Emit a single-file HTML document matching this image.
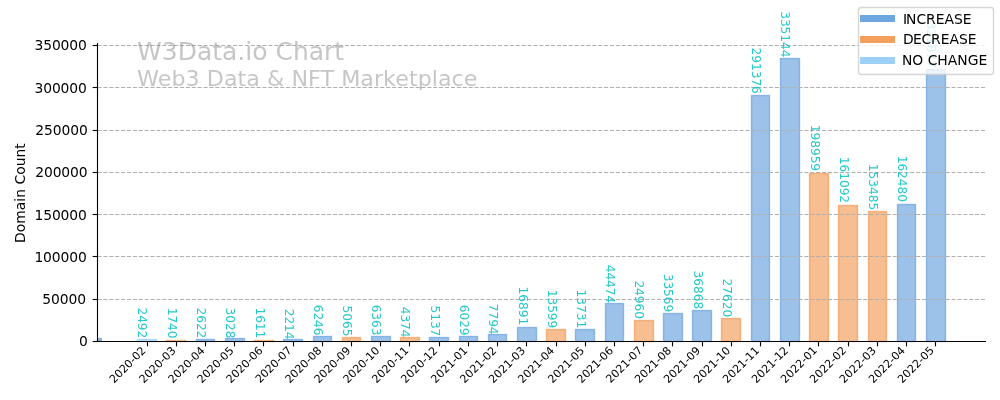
<!DOCTYPE html>
<html lang="en"><head><meta charset="utf-8"><title>W3Data.io Chart</title>
<style>html,body{margin:0;padding:0;background:#fff;}body{width:1000px;height:400px;overflow:hidden;}svg{display:block;}text{font-family:"DejaVu Sans","Liberation Sans",sans-serif;}</style></head><body>
<svg width="1000" height="400" viewBox="0 0 1000 400">
<rect width="1000" height="400" fill="#fff"/>
<rect x="98" y="337.9" width="4" height="3.1" fill="#8cb2d8"/>
<g stroke-width="1.39">
<rect x="137.5" y="339.5" width="19.0" height="2.0" fill="#85c4f8" fill-opacity="0.55" stroke="#85c4f8" stroke-opacity="0.55"/>
<rect x="166.5" y="340.5" width="19.0" height="1.0" fill="#f08837" fill-opacity="0.55" stroke="#f08837" stroke-opacity="0.55"/>
<rect x="196.5" y="339.5" width="18.0" height="2.0" fill="#4a90d9" fill-opacity="0.55" stroke="#4a90d9" stroke-opacity="0.55"/>
<rect x="225.5" y="338.5" width="19.0" height="3.0" fill="#4a90d9" fill-opacity="0.55" stroke="#4a90d9" stroke-opacity="0.55"/>
<rect x="254.5" y="340.5" width="19.0" height="1.0" fill="#f08837" fill-opacity="0.55" stroke="#f08837" stroke-opacity="0.55"/>
<rect x="283.5" y="339.5" width="19.0" height="2.0" fill="#4a90d9" fill-opacity="0.55" stroke="#4a90d9" stroke-opacity="0.55"/>
<rect x="313.5" y="336.5" width="18.0" height="5.0" fill="#4a90d9" fill-opacity="0.55" stroke="#4a90d9" stroke-opacity="0.55"/>
<rect x="342.5" y="337.5" width="18.0" height="4.0" fill="#f08837" fill-opacity="0.55" stroke="#f08837" stroke-opacity="0.55"/>
<rect x="371.5" y="336.5" width="19.0" height="5.0" fill="#4a90d9" fill-opacity="0.55" stroke="#4a90d9" stroke-opacity="0.55"/>
<rect x="400.5" y="337.5" width="19.0" height="4.0" fill="#f08837" fill-opacity="0.55" stroke="#f08837" stroke-opacity="0.55"/>
<rect x="429.5" y="337.5" width="19.0" height="4.0" fill="#4a90d9" fill-opacity="0.55" stroke="#4a90d9" stroke-opacity="0.55"/>
<rect x="459.5" y="336.5" width="18.0" height="5.0" fill="#4a90d9" fill-opacity="0.55" stroke="#4a90d9" stroke-opacity="0.55"/>
<rect x="488.5" y="334.5" width="18.0" height="7.0" fill="#4a90d9" fill-opacity="0.55" stroke="#4a90d9" stroke-opacity="0.55"/>
<rect x="517.5" y="327.5" width="19.0" height="14.0" fill="#4a90d9" fill-opacity="0.55" stroke="#4a90d9" stroke-opacity="0.55"/>
<rect x="546.5" y="329.5" width="19.0" height="12.0" fill="#f08837" fill-opacity="0.55" stroke="#f08837" stroke-opacity="0.55"/>
<rect x="575.5" y="329.5" width="19.0" height="12.0" fill="#4a90d9" fill-opacity="0.55" stroke="#4a90d9" stroke-opacity="0.55"/>
<rect x="605.5" y="303.5" width="18.0" height="38.0" fill="#4a90d9" fill-opacity="0.55" stroke="#4a90d9" stroke-opacity="0.55"/>
<rect x="634.5" y="320.5" width="19.0" height="21.0" fill="#f08837" fill-opacity="0.55" stroke="#f08837" stroke-opacity="0.55"/>
<rect x="663.5" y="313.5" width="19.0" height="28.0" fill="#4a90d9" fill-opacity="0.55" stroke="#4a90d9" stroke-opacity="0.55"/>
<rect x="692.5" y="310.5" width="19.0" height="31.0" fill="#4a90d9" fill-opacity="0.55" stroke="#4a90d9" stroke-opacity="0.55"/>
<rect x="721.5" y="318.5" width="19.0" height="23.0" fill="#f08837" fill-opacity="0.55" stroke="#f08837" stroke-opacity="0.55"/>
<rect x="751.5" y="95.5" width="18.0" height="246.0" fill="#4a90d9" fill-opacity="0.55" stroke="#4a90d9" stroke-opacity="0.55"/>
<rect x="780.5" y="58.5" width="19.0" height="283.0" fill="#4a90d9" fill-opacity="0.55" stroke="#4a90d9" stroke-opacity="0.55"/>
<rect x="809.5" y="173.5" width="19.0" height="168.0" fill="#f08837" fill-opacity="0.55" stroke="#f08837" stroke-opacity="0.55"/>
<rect x="838.5" y="205.5" width="19.0" height="136.0" fill="#f08837" fill-opacity="0.55" stroke="#f08837" stroke-opacity="0.55"/>
<rect x="868.5" y="211.5" width="18.0" height="130.0" fill="#f08837" fill-opacity="0.55" stroke="#f08837" stroke-opacity="0.55"/>
<rect x="897.5" y="204.5" width="18.0" height="137.0" fill="#4a90d9" fill-opacity="0.55" stroke="#4a90d9" stroke-opacity="0.55"/>
<rect x="926.5" y="69.5" width="19.0" height="272.0" fill="#4a90d9" fill-opacity="0.55" stroke="#4a90d9" stroke-opacity="0.55"/>
</g>
<g stroke="#b0b0b0" stroke-width="1.11" stroke-dasharray="4.11 1.78" fill="none">
<line x1="97.5" x2="985" y1="341.5" y2="341.5"/>
<line x1="97.5" x2="985" y1="299.5" y2="299.5"/>
<line x1="97.5" x2="985" y1="256.5" y2="256.5"/>
<line x1="97.5" x2="985" y1="214.5" y2="214.5"/>
<line x1="97.5" x2="985" y1="172.5" y2="172.5"/>
<line x1="97.5" x2="985" y1="130.5" y2="130.5"/>
<line x1="97.5" x2="985" y1="87.5" y2="87.5"/>
<line x1="97.5" x2="985" y1="45.5" y2="45.5"/>
</g>
<g stroke="#000" stroke-width="1.11" fill="none" stroke-linecap="square">
<line x1="97.5" x2="97.5" y1="43.5" y2="341.5"/>
<line x1="97.5" x2="985.5" y1="341.5" y2="341.5"/>
</g>
<g stroke="#000" stroke-width="1.11" fill="none">
<line x1="92.64" x2="97.5" y1="341.5" y2="341.5"/>
<line x1="92.64" x2="97.5" y1="299.5" y2="299.5"/>
<line x1="92.64" x2="97.5" y1="256.5" y2="256.5"/>
<line x1="92.64" x2="97.5" y1="214.5" y2="214.5"/>
<line x1="92.64" x2="97.5" y1="172.5" y2="172.5"/>
<line x1="92.64" x2="97.5" y1="130.5" y2="130.5"/>
<line x1="92.64" x2="97.5" y1="87.5" y2="87.5"/>
<line x1="92.64" x2="97.5" y1="45.5" y2="45.5"/>
<line x1="147.5" x2="147.5" y1="341.5" y2="346.36"/>
<line x1="176.5" x2="176.5" y1="341.5" y2="346.36"/>
<line x1="205.5" x2="205.5" y1="341.5" y2="346.36"/>
<line x1="234.5" x2="234.5" y1="341.5" y2="346.36"/>
<line x1="263.5" x2="263.5" y1="341.5" y2="346.36"/>
<line x1="293.5" x2="293.5" y1="341.5" y2="346.36"/>
<line x1="322.5" x2="322.5" y1="341.5" y2="346.36"/>
<line x1="351.5" x2="351.5" y1="341.5" y2="346.36"/>
<line x1="380.5" x2="380.5" y1="341.5" y2="346.36"/>
<line x1="409.5" x2="409.5" y1="341.5" y2="346.36"/>
<line x1="439.5" x2="439.5" y1="341.5" y2="346.36"/>
<line x1="468.5" x2="468.5" y1="341.5" y2="346.36"/>
<line x1="497.5" x2="497.5" y1="341.5" y2="346.36"/>
<line x1="526.5" x2="526.5" y1="341.5" y2="346.36"/>
<line x1="556.5" x2="556.5" y1="341.5" y2="346.36"/>
<line x1="585.5" x2="585.5" y1="341.5" y2="346.36"/>
<line x1="614.5" x2="614.5" y1="341.5" y2="346.36"/>
<line x1="643.5" x2="643.5" y1="341.5" y2="346.36"/>
<line x1="672.5" x2="672.5" y1="341.5" y2="346.36"/>
<line x1="702.5" x2="702.5" y1="341.5" y2="346.36"/>
<line x1="731.5" x2="731.5" y1="341.5" y2="346.36"/>
<line x1="760.5" x2="760.5" y1="341.5" y2="346.36"/>
<line x1="789.5" x2="789.5" y1="341.5" y2="346.36"/>
<line x1="818.5" x2="818.5" y1="341.5" y2="346.36"/>
<line x1="848.5" x2="848.5" y1="341.5" y2="346.36"/>
<line x1="877.5" x2="877.5" y1="341.5" y2="346.36"/>
<line x1="906.5" x2="906.5" y1="341.5" y2="346.36"/>
<line x1="935.5" x2="935.5" y1="341.5" y2="346.36"/>
</g>
<g font-size="12.5" letter-spacing="-0.08" fill="#00bfbf" fill-opacity="0.85" text-anchor="end">
<text transform="translate(137.75,338.28) rotate(90) scale(0.98,1)">2492</text>
<text transform="translate(167.75,338.52) rotate(90) scale(0.98,1)">1740</text>
<text transform="translate(196.75,338.32) rotate(90) scale(0.98,1)">2622</text>
<text transform="translate(225.75,338.44) rotate(90) scale(0.98,1)">3028</text>
<text transform="translate(255.75,338.28) rotate(90) scale(0.98,1)">1611</text>
<text transform="translate(284.75,339.51) rotate(90) scale(0.98,1)">2214</text>
<text transform="translate(313.75,335.5) rotate(90) scale(0.98,1)">6246</text>
<text transform="translate(342.75,336.38) rotate(90) scale(0.98,1)">5065</text>
<text transform="translate(371.75,335.48) rotate(90) scale(0.98,1)">6363</text>
<text transform="translate(400.75,337.53) rotate(90) scale(0.98,1)">4374</text>
<text transform="translate(430.75,336.31) rotate(90) scale(0.98,1)">5137</text>
<text transform="translate(459.75,335.57) rotate(90) scale(0.98,1)">6029</text>
<text transform="translate(488.75,334.55) rotate(90) scale(0.98,1)">7794</text>
<text transform="translate(518.75,325.15) rotate(90) scale(0.98,1)">16891</text>
<text transform="translate(547.75,328.27) rotate(90) scale(0.98,1)">13599</text>
<text transform="translate(576.75,328.13) rotate(90) scale(0.98,1)">13731</text>
<text transform="translate(605.75,303.21) rotate(90) scale(0.98,1)">44474</text>
<text transform="translate(634.75,318.94) rotate(90) scale(0.98,1)">24960</text>
<text transform="translate(663.75,312.21) rotate(90) scale(0.98,1)">33569</text>
<text transform="translate(693.75,309.14) rotate(90) scale(0.98,1)">36868</text>
<text transform="translate(722.75,317.12) rotate(90) scale(0.98,1)">27620</text>
<text transform="translate(751.75,93.81) rotate(90) scale(0.98,1)">291376</text>
<text transform="translate(780.75,57.42) rotate(90) scale(0.98,1)">335144</text>
<text transform="translate(810.75,171.05) rotate(90) scale(0.98,1)">198959</text>
<text transform="translate(839.75,203.05) rotate(90) scale(0.98,1)">161092</text>
<text transform="translate(868.75,210.11) rotate(90) scale(0.98,1)">153485</text>
<text transform="translate(897.75,201.94) rotate(90) scale(0.98,1)">162480</text>
<text transform="translate(926.75,67.9) rotate(90) scale(0.98,1)">321877</text>
</g>
<g font-size="13.89" letter-spacing="-0.1" fill="#000" text-anchor="end">
<text x="87.7" y="346">0</text>
<text x="86.01" y="304">50000</text>
<text x="86.75" y="262">100000</text>
<text x="86.82" y="220">150000</text>
<text x="87.57" y="177">200000</text>
<text x="87.63" y="135">250000</text>
<text x="86.81" y="93">300000</text>
<text x="86.82" y="50">350000</text>
</g>
<g font-size="11.11" letter-spacing="-0.05" fill="#000" text-anchor="end">
<text transform="translate(146.55,351.19) rotate(-45) scale(1.0,1)">2020-02</text>
<text transform="translate(176.35,351.25) rotate(-45) scale(1.0,1)">2020-03</text>
<text transform="translate(205.44,351.24) rotate(-45) scale(1.0,1)">2020-04</text>
<text transform="translate(234.41,351.22) rotate(-45) scale(1.0,1)">2020-05</text>
<text transform="translate(263.39,351.19) rotate(-45) scale(1.0,1)">2020-06</text>
<text transform="translate(292.46,351) rotate(-45) scale(1.0,1)">2020-07</text>
<text transform="translate(322.23,351.21) rotate(-45) scale(1.0,1)">2020-08</text>
<text transform="translate(351.23,351.21) rotate(-45) scale(1.0,1)">2020-09</text>
<text transform="translate(380.24,351.21) rotate(-45) scale(1.0,1)">2020-10</text>
<text transform="translate(409.2,351.22) rotate(-45) scale(1.0,1)">2020-11</text>
<text transform="translate(438.2,351.22) rotate(-45) scale(1.0,1)">2020-12</text>
<text transform="translate(468.2,351.19) rotate(-45) scale(1.0,1)">2021-01</text>
<text transform="translate(497.19,351.21) rotate(-45) scale(1.0,1)">2021-02</text>
<text transform="translate(525.95,351.29) rotate(-45) scale(1.0,1)">2021-03</text>
<text transform="translate(555.09,351.25) rotate(-45) scale(1.0,1)">2021-04</text>
<text transform="translate(585.07,351.23) rotate(-45) scale(1.0,1)">2021-05</text>
<text transform="translate(614.01,351.25) rotate(-45) scale(1.0,1)">2021-06</text>
<text transform="translate(643.11,351.04) rotate(-45) scale(1.0,1)">2021-07</text>
<text transform="translate(671.87,351.21) rotate(-45) scale(1.0,1)">2021-08</text>
<text transform="translate(700.87,351.25) rotate(-45) scale(1.0,1)">2021-09</text>
<text transform="translate(730.92,351.22) rotate(-45) scale(1.0,1)">2021-10</text>
<text transform="translate(759.9,351.21) rotate(-45) scale(1.0,1)">2021-11</text>
<text transform="translate(788.88,351.19) rotate(-45) scale(1.0,1)">2021-12</text>
<text transform="translate(817.84,351.12) rotate(-45) scale(1.0,1)">2022-01</text>
<text transform="translate(846.86,351.11) rotate(-45) scale(1.0,1)">2022-02</text>
<text transform="translate(876.64,351.23) rotate(-45) scale(1.0,1)">2022-03</text>
<text transform="translate(905.75,351.18) rotate(-45) scale(1.0,1)">2022-04</text>
<text transform="translate(934.71,351.15) rotate(-45) scale(1.0,1)">2022-05</text>
</g>
<text font-size="13.89" letter-spacing="0.025" fill="#000" text-anchor="middle" transform="translate(25.0,193.125) rotate(-90)">Domain Count</text>
<text x="137.0" y="60.3" font-size="25.0" letter-spacing="0" fill="#808080" fill-opacity="0.45">W3Data.io Chart</text>
<text transform="translate(137.0,86.0) scale(1,0.955)" font-size="22.22" letter-spacing="0.025" fill="#808080" fill-opacity="0.45">Web3 Data &amp; NFT Marketplace</text>
<rect x="858.5" y="7.5" width="135.0" height="67.0" rx="2.8" ry="2.8" fill="#fff" fill-opacity="0.8" stroke="#ccc" stroke-opacity="0.8" stroke-width="1.39"/>
<rect x="860" y="15" width="35" height="7" fill="#4a90d9" fill-opacity="0.8"/>
<text transform="translate(901.925,23.50) scale(1.0,1)" dx="1 -1" font-size="13.89" letter-spacing="0" fill="#000">INCREASE</text>
<rect x="860" y="36" width="35" height="7" fill="#f08837" fill-opacity="0.8"/>
<text transform="translate(901.925,44.00) scale(1.0,1)" dx="1 -0.5 -0.5" font-size="13.89" letter-spacing="0" fill="#000">DECREASE</text>
<rect x="860" y="57" width="35" height="7" fill="#85c4f8" fill-opacity="0.8"/>
<text transform="translate(901.925,64.80) scale(1.0,1)" dx="0" font-size="13.89" letter-spacing="0" fill="#000">NO CHANGE</text>
</svg></body></html>
